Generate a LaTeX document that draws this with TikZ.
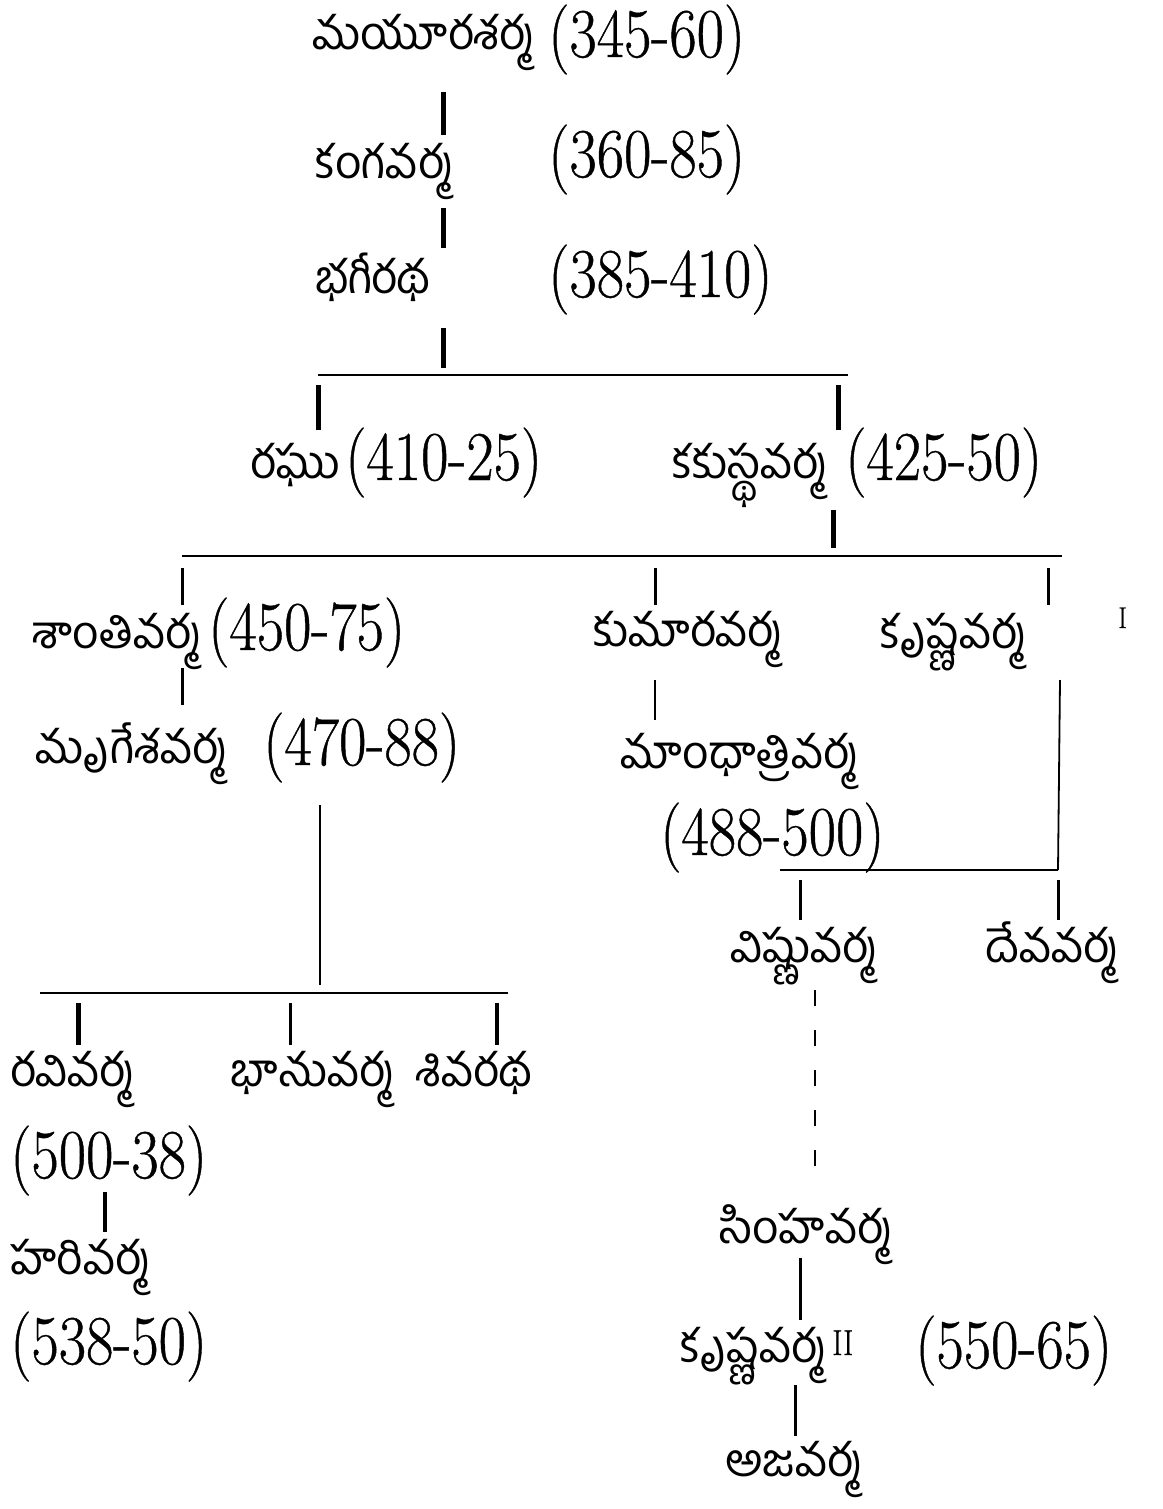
\documentclass[tikz,border=0pt]{standalone}
\usepackage{fontspec}
\newfontfamily\telugu[Script=Telugu]{Hind Guntur}
\newfontfamily\datefont[FakeStretch=0.85,FakeBold=0.6]{Latin Modern Roman}
\begin{document}
\begin{tikzpicture}[x=0.5pt,y=-0.5pt,
  tel/.style={font=\telugu\fontsize{23}{27}\selectfont, inner sep=0pt, anchor=base west},
  dt/.style={font=\datefont\fontsize{35}{40}\selectfont, inner sep=0pt, anchor=base west},
  thk/.style={line width=2.5pt},
  thn/.style={line width=0.9pt},
  bar/.style={line width=1.4pt},
  dsh/.style={line width=0.7pt, dash pattern=on 8pt off 12pt}]
\useasboundingbox[fill=white] (0,0) rectangle (1162,1509);
% names
\node[tel] (mayura) at (312,50) {మయూరశర్మ};
\node[dt]  (mayuraD) at (548,57) {(345-60)};
\node[tel] (kanga) at (315,178) {కంగవర్మ};
\node[dt]  (kangaD) at (548,177) {(360-85)};
\node[tel] (bhagi) at (315,293) {భగీరథ};
\node[dt]  (bhagiD) at (548,297) {(385-410)};
\node[tel] (raghu) at (250,478) {రఘు};
\node[dt]  (raghuD) at (345,480) {(410-25)};
\node[tel] (kakus) at (672,478) {కకుస్థవర్మ};
\node[dt]  (kakusD) at (845,480) {(425-50)};
\node[tel] (shanti) at (32,648) {శాంతివర్మ};
\node[dt]  (shantiD) at (208,650) {(450-75)};
\node[tel] (kumara) at (593,646) {కుమారవర్మ};
\node[tel] (krishna) at (880,648) {కృష్ణవర్మ};
\node[dt, font=\datefont\fontsize{15}{18}\selectfont] (one) at (1118,628) {I};
\node[tel] (mrigesha) at (35,763) {మృగేశవర్మ};
\node[dt]  (mrigeshaD) at (263,765) {(470-88)};
\node[tel] (mandhatri) at (620,768) {మాంధాత్రివర్మ};
\node[dt]  (mandhatriD) at (660,855) {(488-500)};
\node[tel] (vishnu) at (730,962) {విష్ణువర్మ};
\node[tel] (deva) at (985,962) {దేవవర్మ};
\node[tel] (ravi) at (10,1086) {రవివర్మ};
\node[dt]  (raviD) at (10,1178) {(500-38)};
\node[tel] (bhanu) at (230,1086) {భానువర్మ};
\node[tel] (shiva) at (415,1086) {శివరథ};
\node[tel] (hari) at (10,1274) {హరివర్మ};
\node[dt]  (hariD) at (10,1364) {(538-50)};
\node[tel] (simha) at (720,1243) {సింహవర్మ};
\node[tel] (krishnaII) at (680,1362) {కృష్ణవర్మ};
\node[dt, font=\datefont\fontsize{18}{20}\selectfont] (two) at (832,1355) {II};
\node[dt]  (krishnaIID) at (915,1368) {(550-65)};
\node[tel] (aja) at (725,1476) {అజవర్మ};
% junction coordinates
\coordinate (b1l) at (318,375); \coordinate (b1r) at (848,375);
\coordinate (b2l) at (182,556); \coordinate (b2r) at (1062,556);
\coordinate (b3l) at (780,870); \coordinate (b3r) at (1058,870);
\coordinate (b4l) at (40,993);  \coordinate (b4r) at (508,993);
% bars
\draw[bar] (b1l) -- (b1r);
\draw[bar] (b2l) -- (b2r);
\draw[bar] (b3l) -- (b3r);
\draw[bar] (b4l) -- (b4r);
% vertical connectors
\coordinate (m1) at (443,92);  \coordinate (m2) at (443,135);
\draw[thk] (m1) -- (m2);
\coordinate (k1) at (443,208); \coordinate (k2) at (443,248);
\draw[thk] (k1) -- (k2);
\coordinate (g1) at (443,328); \coordinate (g2) at (443,368);
\draw[thk] (g1) -- (g2);
\coordinate (r1) at (318,385); \coordinate (r2) at (318,430);
\draw[thk] (r1) -- (r2);
\coordinate (c1) at (838,385); \coordinate (c2) at (838,430);
\draw[thk] (c1) -- (c2);
\coordinate (ck1) at (833,510); \coordinate (ck2) at (833,548);
\draw[thk] (ck1) -- (ck2);
\coordinate (s1) at (182,568); \coordinate (s2) at (182,605);
\draw[thn, line width=1.5pt] (s1) -- (s2);
\coordinate (u1) at (655,568); \coordinate (u2) at (655,605);
\draw[thn, line width=1.5pt] (u1) -- (u2);
\coordinate (n1) at (1048,568); \coordinate (n2) at (1048,605);
\draw[thn, line width=1.5pt] (n1) -- (n2);
\coordinate (sm1) at (182,668); \coordinate (sm2) at (182,705);
\draw[thn, line width=1.5pt] (sm1) -- (sm2);
\coordinate (um1) at (655,680); \coordinate (um2) at (655,720);
\draw[thn] (um1) -- (um2);
\coordinate (kv1) at (1060,680);
\draw[thn] (kv1) -- (b3r);
\coordinate (v1) at (800,880); \coordinate (v2) at (800,920);
\draw[thn, line width=1.5pt] (v1) -- (v2);
\coordinate (d1) at (1058,880); \coordinate (d2) at (1058,920);
\draw[thn, line width=1.5pt] (d1) -- (d2);
\coordinate (mg1) at (320,805); \coordinate (mg2) at (320,985);
\draw[thn, line width=0.6pt] (mg1) -- (mg2);
\coordinate (rv1) at (78,1003); \coordinate (rv2) at (78,1045);
\draw[thk] (rv1) -- (rv2);
\coordinate (bn1) at (290,1003); \coordinate (bn2) at (290,1045);
\draw[thn, line width=1.5pt] (bn1) -- (bn2);
\coordinate (sv1) at (497,1003); \coordinate (sv2) at (497,1045);
\draw[thn, line width=1.8pt] (sv1) -- (sv2);
\coordinate (rh1) at (105,1192); \coordinate (rh2) at (105,1232);
\draw[thn, line width=1.8pt] (rh1) -- (rh2);
\coordinate (vs1) at (815,990); \coordinate (vs2) at (815,1175);
\draw[dsh] (vs1) -- (vs2);
\coordinate (sk1) at (800,1258); \coordinate (sk2) at (800,1320);
\draw[thn, line width=1.5pt] (sk1) -- (sk2);
\coordinate (ka1) at (795,1385); \coordinate (ka2) at (795,1436);
\draw[thn, line width=1.5pt] (ka1) -- (ka2);
\end{tikzpicture}
\end{document}
